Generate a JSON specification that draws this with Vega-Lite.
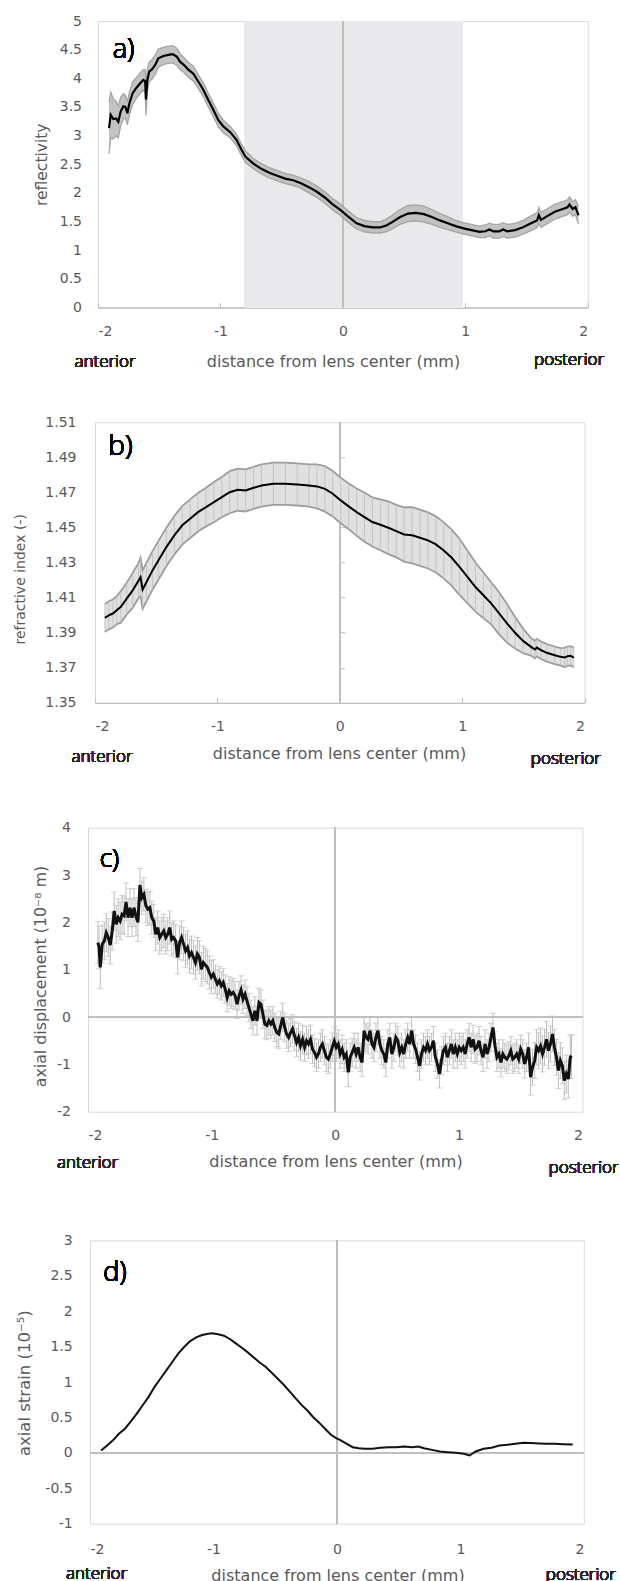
{
"$schema": "https://vega.github.io/schema/vega-lite/v6.json",
"background": "white",
"padding": {"left": 0, "top": 13, "right": 0, "bottom": 0},
"config": {
  "locale": {"number": {"decimal": ".", "thousands": ",", "grouping": [3], "currency": ["$", ""], "minus": "-"}},
  "view": {"stroke": "#d9d9d9", "strokeWidth": 1},
  "axis": {"labelFont": "DejaVu Sans", "labelFontSize": 14, "labelColor": "#595959", "labelOverlap": false, "titleFont": "DejaVu Sans", "titleColor": "#595959", "titleFontWeight": "normal", "domainColor": "#bfbfbf", "tickColor": "#bfbfbf", "grid": false, "format": "~g"},
  "text": {"font": "Open Sans", "fontWeight": 300}
},
"datasets": {
"a": [
{"x":-1.91,"y":3.13,"e":0.45},{"x":-1.896,"y":3.36,"e":0.4},{"x":-1.875,"y":3.29,"e":0.35},{"x":-1.853,"y":3.30,"e":0.3},{"x":-1.834,"y":3.24,"e":0.28},{"x":-1.815,"y":3.42,"e":0.25},{"x":-1.793,"y":3.51,"e":0.22},{"x":-1.776,"y":3.50,"e":0.2},{"x":-1.76,"y":3.39,"e":0.2},{"x":-1.744,"y":3.56,"e":0.2},{"x":-1.717,"y":3.74,"e":0.2},{"x":-1.684,"y":3.84,"e":0.18},{"x":-1.657,"y":3.91,"e":0.18},{"x":-1.63,"y":3.97,"e":0.18},{"x":-1.615,"y":3.95,"e":0.2},{"x":-1.608,"y":3.63,"e":0.28},{"x":-1.597,"y":3.97,"e":0.2},{"x":-1.581,"y":4.12,"e":0.17},{"x":-1.561,"y":4.15,"e":0.17},{"x":-1.534,"y":4.23,"e":0.17},{"x":-1.507,"y":4.35,"e":0.16},{"x":-1.466,"y":4.39,"e":0.15},{"x":-1.426,"y":4.41,"e":0.15},{"x":-1.39,"y":4.42,"e":0.15},{"x":-1.357,"y":4.38,"e":0.15},{"x":-1.33,"y":4.29,"e":0.14},{"x":-1.297,"y":4.23,"e":0.13},{"x":-1.262,"y":4.15,"e":0.13},{"x":-1.221,"y":4.08,"e":0.13},{"x":-1.18,"y":3.94,"e":0.12},{"x":-1.14,"y":3.80,"e":0.12},{"x":-1.099,"y":3.62,"e":0.12},{"x":-1.058,"y":3.45,"e":0.12},{"x":-1.017,"y":3.27,"e":0.12},{"x":-0.976,"y":3.16,"e":0.11},{"x":-0.92,"y":3.06,"e":0.1},{"x":-0.87,"y":2.93,"e":0.1},{"x":-0.83,"y":2.76,"e":0.1},{"x":-0.795,"y":2.63,"e":0.1},{"x":-0.73,"y":2.51,"e":0.09},{"x":-0.666,"y":2.42,"e":0.09},{"x":-0.601,"y":2.35,"e":0.09},{"x":-0.536,"y":2.30,"e":0.09},{"x":-0.471,"y":2.25,"e":0.09},{"x":-0.406,"y":2.22,"e":0.09},{"x":-0.342,"y":2.17,"e":0.09},{"x":-0.277,"y":2.10,"e":0.1},{"x":-0.212,"y":2.02,"e":0.1},{"x":-0.147,"y":1.92,"e":0.1},{"x":-0.083,"y":1.80,"e":0.1},{"x":-0.018,"y":1.70,"e":0.1},{"x":0.047,"y":1.58,"e":0.1},{"x":0.112,"y":1.47,"e":0.1},{"x":0.176,"y":1.42,"e":0.1},{"x":0.241,"y":1.40,"e":0.1},{"x":0.306,"y":1.40,"e":0.1},{"x":0.355,"y":1.43,"e":0.11},{"x":0.403,"y":1.49,"e":0.12},{"x":0.468,"y":1.58,"e":0.13},{"x":0.533,"y":1.64,"e":0.14},{"x":0.597,"y":1.65,"e":0.14},{"x":0.662,"y":1.63,"e":0.14},{"x":0.727,"y":1.58,"e":0.13},{"x":0.792,"y":1.52,"e":0.12},{"x":0.857,"y":1.47,"e":0.11},{"x":0.921,"y":1.42,"e":0.1},{"x":0.986,"y":1.38,"e":0.1},{"x":1.051,"y":1.35,"e":0.1},{"x":1.116,"y":1.32,"e":0.1},{"x":1.164,"y":1.33,"e":0.11},{"x":1.197,"y":1.36,"e":0.11},{"x":1.229,"y":1.33,"e":0.12},{"x":1.278,"y":1.33,"e":0.12},{"x":1.31,"y":1.36,"e":0.12},{"x":1.343,"y":1.33,"e":0.12},{"x":1.407,"y":1.35,"e":0.12},{"x":1.472,"y":1.40,"e":0.12},{"x":1.537,"y":1.47,"e":0.13},{"x":1.586,"y":1.52,"e":0.13},{"x":1.601,"y":1.61,"e":0.14},{"x":1.618,"y":1.53,"e":0.13},{"x":1.666,"y":1.59,"e":0.13},{"x":1.731,"y":1.67,"e":0.13},{"x":1.796,"y":1.72,"e":0.13},{"x":1.835,"y":1.75,"e":0.13},{"x":1.851,"y":1.80,"e":0.13},{"x":1.877,"y":1.72,"e":0.13},{"x":1.90,"y":1.75,"e":0.13},{"x":1.925,"y":1.61,"e":0.15}
],
"b": [
{"x":-1.919,"y":1.3984,"e":0.008},{"x":-1.887,"y":1.3999,"e":0.008},{"x":-1.854,"y":1.4009,"e":0.008},{"x":-1.822,"y":1.4028,"e":0.008},{"x":-1.789,"y":1.4047,"e":0.009},{"x":-1.741,"y":1.4094,"e":0.009},{"x":-1.692,"y":1.4141,"e":0.01},{"x":-1.644,"y":1.4198,"e":0.01},{"x":-1.628,"y":1.4217,"e":0.011},{"x":-1.611,"y":1.4145,"e":0.011},{"x":-1.579,"y":1.4189,"e":0.011},{"x":-1.53,"y":1.4255,"e":0.011},{"x":-1.482,"y":1.4312,"e":0.011},{"x":-1.417,"y":1.4388,"e":0.011},{"x":-1.352,"y":1.4455,"e":0.011},{"x":-1.287,"y":1.4512,"e":0.011},{"x":-1.223,"y":1.4550,"e":0.011},{"x":-1.158,"y":1.4587,"e":0.011},{"x":-1.093,"y":1.4616,"e":0.011},{"x":-1.028,"y":1.4644,"e":0.0115},{"x":-0.964,"y":1.4673,"e":0.0115},{"x":-0.899,"y":1.4701,"e":0.012},{"x":-0.834,"y":1.4715,"e":0.012},{"x":-0.769,"y":1.4711,"e":0.012},{"x":-0.704,"y":1.4726,"e":0.012},{"x":-0.640,"y":1.4739,"e":0.012},{"x":-0.543,"y":1.4749,"e":0.012},{"x":-0.445,"y":1.4749,"e":0.012},{"x":-0.348,"y":1.4745,"e":0.012},{"x":-0.251,"y":1.4739,"e":0.012},{"x":-0.186,"y":1.4734,"e":0.0125},{"x":-0.121,"y":1.4720,"e":0.013},{"x":-0.057,"y":1.4692,"e":0.013},{"x":0.008,"y":1.4654,"e":0.013},{"x":0.073,"y":1.4620,"e":0.013},{"x":0.138,"y":1.4587,"e":0.0135},{"x":0.202,"y":1.4559,"e":0.014},{"x":0.267,"y":1.4531,"e":0.014},{"x":0.332,"y":1.4515,"e":0.0145},{"x":0.397,"y":1.4498,"e":0.015},{"x":0.462,"y":1.4479,"e":0.015},{"x":0.526,"y":1.4460,"e":0.0155},{"x":0.591,"y":1.4455,"e":0.016},{"x":0.656,"y":1.4441,"e":0.016},{"x":0.721,"y":1.4426,"e":0.016},{"x":0.786,"y":1.4403,"e":0.016},{"x":0.850,"y":1.4369,"e":0.016},{"x":0.915,"y":1.4327,"e":0.016},{"x":0.980,"y":1.4274,"e":0.016},{"x":1.045,"y":1.4217,"e":0.015},{"x":1.109,"y":1.4160,"e":0.014},{"x":1.174,"y":1.4113,"e":0.013},{"x":1.239,"y":1.4066,"e":0.012},{"x":1.304,"y":1.4009,"e":0.012},{"x":1.368,"y":1.3952,"e":0.011},{"x":1.433,"y":1.3899,"e":0.009},{"x":1.498,"y":1.3853,"e":0.007},{"x":1.563,"y":1.3819,"e":0.005},{"x":1.595,"y":1.3804,"e":0.005},{"x":1.611,"y":1.3815,"e":0.005},{"x":1.644,"y":1.3800,"e":0.005},{"x":1.692,"y":1.3785,"e":0.005},{"x":1.757,"y":1.3771,"e":0.005},{"x":1.806,"y":1.3762,"e":0.005},{"x":1.838,"y":1.3758,"e":0.0055},{"x":1.861,"y":1.3766,"e":0.0055},{"x":1.887,"y":1.3768,"e":0.0055},{"x":1.913,"y":1.3758,"e":0.0055}
],
"c": [
{"x":-1.920,"y":1.57,"e":0.45},{"x":-1.910,"y":1.47,"e":0.45},{"x":-1.901,"y":1.05,"e":0.45},
{"x":-1.885,"y":1.54,"e":0.4},{"x":-1.868,"y":1.61,"e":0.4},{"x":-1.852,"y":1.78,"e":0.4},{"x":-1.836,"y":1.68,"e":0.4},{"x":-1.820,"y":1.52,"e":0.4},{"x":-1.804,"y":1.82,"e":0.4},{"x":-1.788,"y":2.24,"e":0.4},{"x":-1.772,"y":1.96,"e":0.4},{"x":-1.756,"y":2.10,"e":0.4},{"x":-1.740,"y":2.03,"e":0.4},{"x":-1.724,"y":2.17,"e":0.4},{"x":-1.708,"y":2.14,"e":0.4},{"x":-1.692,"y":2.43,"e":0.4},{"x":-1.676,"y":2.10,"e":0.4},{"x":-1.660,"y":2.31,"e":0.4},{"x":-1.644,"y":2.10,"e":0.4},{"x":-1.628,"y":2.31,"e":0.4},{"x":-1.612,"y":2.12,"e":0.4},{"x":-1.596,"y":2.00,"e":0.4},
{"x":-1.580,"y":2.79,"e":0.35},{"x":-1.564,"y":2.52,"e":0.35},{"x":-1.548,"y":2.59,"e":0.35},{"x":-1.532,"y":2.35,"e":0.35},{"x":-1.516,"y":2.28,"e":0.35},{"x":-1.500,"y":2.31,"e":0.35},{"x":-1.484,"y":2.10,"e":0.35},{"x":-1.468,"y":2.03,"e":0.35},{"x":-1.452,"y":1.75,"e":0.35},{"x":-1.436,"y":1.89,"e":0.35},{"x":-1.419,"y":1.68,"e":0.35},{"x":-1.403,"y":1.75,"e":0.35},{"x":-1.387,"y":1.82,"e":0.35},{"x":-1.371,"y":1.68,"e":0.35},{"x":-1.355,"y":1.75,"e":0.35},{"x":-1.339,"y":1.89,"e":0.35},{"x":-1.323,"y":1.64,"e":0.35},{"x":-1.307,"y":1.68,"e":0.35},{"x":-1.291,"y":1.61,"e":0.35},{"x":-1.275,"y":1.26,"e":0.35},{"x":-1.259,"y":1.57,"e":0.35},{"x":-1.243,"y":1.68,"e":0.35},{"x":-1.227,"y":1.54,"e":0.35},{"x":-1.211,"y":1.40,"e":0.35},{"x":-1.195,"y":1.47,"e":0.35},{"x":-1.179,"y":1.29,"e":0.35},{"x":-1.163,"y":1.36,"e":0.35},{"x":-1.147,"y":1.26,"e":0.35},{"x":-1.131,"y":1.15,"e":0.35},{"x":-1.115,"y":1.33,"e":0.35},{"x":-1.099,"y":1.26,"e":0.35},{"x":-1.083,"y":1.01,"e":0.35},{"x":-1.067,"y":1.15,"e":0.35},{"x":-1.051,"y":1.10,"e":0.35},{"x":-1.035,"y":1.05,"e":0.35},{"x":-1.019,"y":0.94,"e":0.35},{"x":-1.003,"y":0.84,"e":0.35},
{"x":-0.986,"y":0.91,"e":0.3},{"x":-0.970,"y":0.80,"e":0.3},{"x":-0.954,"y":0.70,"e":0.3},{"x":-0.938,"y":0.77,"e":0.3},{"x":-0.922,"y":0.66,"e":0.3},{"x":-0.906,"y":0.73,"e":0.3},{"x":-0.890,"y":0.59,"e":0.3},{"x":-0.874,"y":0.41,"e":0.3},{"x":-0.858,"y":0.55,"e":0.3},{"x":-0.842,"y":0.48,"e":0.3},{"x":-0.826,"y":0.52,"e":0.3},{"x":-0.810,"y":0.45,"e":0.3},{"x":-0.794,"y":0.27,"e":0.3},{"x":-0.778,"y":0.45,"e":0.3},{"x":-0.762,"y":0.57,"e":0.3},{"x":-0.746,"y":0.38,"e":0.3},{"x":-0.730,"y":0.48,"e":0.3},{"x":-0.714,"y":0.34,"e":0.3},{"x":-0.698,"y":0.20,"e":0.3},{"x":-0.682,"y":0.06,"e":0.3},{"x":-0.666,"y":-0.08,"e":0.3},{"x":-0.650,"y":0.13,"e":0.3},{"x":-0.633,"y":-0.08,"e":0.3},{"x":-0.617,"y":0.31,"e":0.3},{"x":-0.601,"y":0.27,"e":0.3},{"x":-0.585,"y":0.06,"e":0.3},{"x":-0.569,"y":-0.15,"e":0.3},{"x":-0.553,"y":-0.18,"e":0.3},{"x":-0.537,"y":-0.08,"e":0.3},{"x":-0.521,"y":-0.15,"e":0.3},{"x":-0.505,"y":-0.08,"e":0.3},{"x":-0.489,"y":-0.22,"e":0.3},{"x":-0.473,"y":-0.33,"e":0.3},{"x":-0.457,"y":-0.36,"e":0.3},{"x":-0.441,"y":-0.18,"e":0.3},{"x":-0.425,"y":-0.01,"e":0.3},{"x":-0.409,"y":-0.22,"e":0.3},{"x":-0.393,"y":-0.36,"e":0.3},{"x":-0.377,"y":-0.43,"e":0.3},{"x":-0.361,"y":-0.33,"e":0.3},{"x":-0.345,"y":-0.25,"e":0.3},{"x":-0.329,"y":-0.40,"e":0.3},{"x":-0.313,"y":-0.54,"e":0.3},{"x":-0.297,"y":-0.43,"e":0.3},{"x":-0.281,"y":-0.61,"e":0.3},{"x":-0.264,"y":-0.47,"e":0.3},{"x":-0.248,"y":-0.64,"e":0.3},{"x":-0.232,"y":-0.50,"e":0.3},{"x":-0.216,"y":-0.57,"e":0.3},{"x":-0.200,"y":-0.47,"e":0.3},{"x":-0.184,"y":-0.68,"e":0.3},{"x":-0.168,"y":-0.75,"e":0.3},{"x":-0.152,"y":-0.85,"e":0.3},{"x":-0.136,"y":-0.78,"e":0.3},{"x":-0.120,"y":-0.64,"e":0.3},{"x":-0.104,"y":-0.57,"e":0.3},{"x":-0.088,"y":-0.71,"e":0.3},{"x":-0.072,"y":-0.85,"e":0.3},{"x":-0.056,"y":-0.89,"e":0.3},{"x":-0.040,"y":-0.78,"e":0.3},{"x":-0.024,"y":-0.64,"e":0.3},{"x":-0.008,"y":-0.51,"e":0.3},
{"x":0.008,"y":-0.64,"e":0.3},{"x":0.024,"y":-0.57,"e":0.3},{"x":0.040,"y":-0.78,"e":0.3},{"x":0.056,"y":-0.68,"e":0.3},{"x":0.072,"y":-0.85,"e":0.3},{"x":0.089,"y":-0.78,"e":0.3},{"x":0.105,"y":-1.17,"e":0.3},{"x":0.121,"y":-0.85,"e":0.3},{"x":0.137,"y":-0.75,"e":0.3},{"x":0.153,"y":-0.64,"e":0.3},{"x":0.169,"y":-0.78,"e":0.3},{"x":0.185,"y":-0.64,"e":0.3},{"x":0.201,"y":-0.85,"e":0.3},{"x":0.217,"y":-0.96,"e":0.3},{"x":0.233,"y":-0.29,"e":0.3},{"x":0.249,"y":-0.43,"e":0.3},{"x":0.265,"y":-0.47,"e":0.3},{"x":0.281,"y":-0.29,"e":0.3},{"x":0.297,"y":-0.57,"e":0.3},{"x":0.313,"y":-0.64,"e":0.3},{"x":0.329,"y":-0.43,"e":0.3},{"x":0.345,"y":-0.29,"e":0.3},{"x":0.361,"y":-0.57,"e":0.3},{"x":0.377,"y":-0.71,"e":0.3},{"x":0.393,"y":-0.78,"e":0.3},{"x":0.409,"y":-0.96,"e":0.3},{"x":0.425,"y":-0.57,"e":0.3},{"x":0.441,"y":-0.43,"e":0.3},{"x":0.458,"y":-0.78,"e":0.3},{"x":0.474,"y":-0.64,"e":0.3},{"x":0.490,"y":-0.43,"e":0.3},{"x":0.506,"y":-0.50,"e":0.3},{"x":0.522,"y":-0.75,"e":0.3},{"x":0.538,"y":-0.64,"e":0.3},{"x":0.554,"y":-0.78,"e":0.3},{"x":0.570,"y":-0.57,"e":0.3},{"x":0.586,"y":-0.43,"e":0.3},{"x":0.602,"y":-0.57,"e":0.3},{"x":0.618,"y":-0.29,"e":0.3},{"x":0.634,"y":-0.57,"e":0.3},{"x":0.650,"y":-0.68,"e":0.3},{"x":0.666,"y":-0.85,"e":0.3},{"x":0.682,"y":-1.03,"e":0.3},{"x":0.698,"y":-0.78,"e":0.3},{"x":0.714,"y":-0.64,"e":0.3},{"x":0.730,"y":-0.71,"e":0.3},{"x":0.746,"y":-0.57,"e":0.3},{"x":0.762,"y":-0.71,"e":0.3},{"x":0.778,"y":-0.64,"e":0.3},{"x":0.794,"y":-0.50,"e":0.3},{"x":0.810,"y":-0.85,"e":0.3},{"x":0.826,"y":-0.99,"e":0.3},{"x":0.843,"y":-1.20,"e":0.3},{"x":0.859,"y":-0.92,"e":0.3},{"x":0.875,"y":-0.71,"e":0.3},{"x":0.891,"y":-0.64,"e":0.3},{"x":0.907,"y":-0.85,"e":0.3},{"x":0.923,"y":-0.71,"e":0.3},{"x":0.939,"y":-0.57,"e":0.3},{"x":0.955,"y":-0.78,"e":0.3},{"x":0.971,"y":-0.64,"e":0.3},{"x":0.987,"y":-0.78,"e":0.3},{"x":1.003,"y":-0.64,"e":0.3},{"x":1.019,"y":-0.71,"e":0.3},{"x":1.035,"y":-0.64,"e":0.3},{"x":1.051,"y":-0.78,"e":0.3},{"x":1.067,"y":-0.57,"e":0.3},{"x":1.083,"y":-0.43,"e":0.3},{"x":1.099,"y":-0.64,"e":0.3},{"x":1.115,"y":-0.47,"e":0.3},{"x":1.131,"y":-0.68,"e":0.3},{"x":1.147,"y":-0.64,"e":0.3},{"x":1.163,"y":-0.50,"e":0.3},{"x":1.179,"y":-0.71,"e":0.3},{"x":1.195,"y":-0.85,"e":0.3},{"x":1.212,"y":-0.57,"e":0.3},{"x":1.228,"y":-0.78,"e":0.3},{"x":1.244,"y":-0.64,"e":0.3},{"x":1.260,"y":-0.43,"e":0.3},{"x":1.276,"y":-0.22,"e":0.3},{"x":1.292,"y":-0.61,"e":0.3},{"x":1.308,"y":-0.85,"e":0.3},{"x":1.324,"y":-0.78,"e":0.3},{"x":1.340,"y":-0.96,"e":0.3},{"x":1.356,"y":-0.78,"e":0.3},{"x":1.372,"y":-0.85,"e":0.3},{"x":1.388,"y":-0.89,"e":0.3},{"x":1.404,"y":-0.82,"e":0.3},{"x":1.420,"y":-0.71,"e":0.3},{"x":1.436,"y":-0.89,"e":0.3},{"x":1.452,"y":-0.85,"e":0.3},{"x":1.468,"y":-0.78,"e":0.3},{"x":1.484,"y":-0.89,"e":0.3},{"x":1.500,"y":-0.68,"e":0.3},{"x":1.516,"y":-0.78,"e":0.3},{"x":1.532,"y":-0.99,"e":0.3},{"x":1.548,"y":-0.85,"e":0.3},{"x":1.564,"y":-0.64,"e":0.3},
{"x":1.580,"y":-1.27,"e":0.38},{"x":1.596,"y":-1.06,"e":0.38},{"x":1.613,"y":-0.92,"e":0.38},{"x":1.629,"y":-0.64,"e":0.38},{"x":1.645,"y":-0.71,"e":0.38},{"x":1.661,"y":-0.61,"e":0.38},{"x":1.677,"y":-0.78,"e":0.38},{"x":1.693,"y":-0.64,"e":0.38},{"x":1.709,"y":-0.47,"e":0.38},{"x":1.725,"y":-0.71,"e":0.38},{"x":1.741,"y":-0.57,"e":0.38},{"x":1.757,"y":-0.36,"e":0.38},{"x":1.773,"y":-0.64,"e":0.38},{"x":1.789,"y":-0.85,"e":0.38},{"x":1.805,"y":-1.13,"e":0.38},{"x":1.821,"y":-0.92,"e":0.38},{"x":1.837,"y":-1.03,"e":0.38},{"x":1.853,"y":-1.34,"e":0.4},{"x":1.869,"y":-1.20,"e":0.4},{"x":1.885,"y":-1.31,"e":0.4},{"x":1.901,"y":-0.85,"e":0.45},{"x":1.911,"y":-0.82,"e":0.45}
],
"d": [
{"x":-1.91,"y":0.034},{"x":-1.862,"y":0.105},{"x":-1.814,"y":0.176},{"x":-1.766,"y":0.27},{"x":-1.717,"y":0.341},{"x":-1.669,"y":0.445},{"x":-1.621,"y":0.554},{"x":-1.573,"y":0.672},{"x":-1.525,"y":0.79},{"x":-1.477,"y":0.932},{"x":-1.429,"y":1.05},{"x":-1.38,"y":1.168},{"x":-1.332,"y":1.286},{"x":-1.284,"y":1.404},{"x":-1.236,"y":1.498},{"x":-1.188,"y":1.578},{"x":-1.14,"y":1.63},{"x":-1.091,"y":1.664},{"x":-1.043,"y":1.682},{"x":-1.011,"y":1.687},{"x":-0.963,"y":1.673},{"x":-0.915,"y":1.654},{"x":-0.867,"y":1.607},{"x":-0.819,"y":1.545},{"x":-0.770,"y":1.484},{"x":-0.722,"y":1.418},{"x":-0.674,"y":1.347},{"x":-0.626,"y":1.276},{"x":-0.578,"y":1.215},{"x":-0.530,"y":1.135},{"x":-0.481,"y":1.05},{"x":-0.433,"y":0.965},{"x":-0.385,"y":0.870},{"x":-0.337,"y":0.776},{"x":-0.289,"y":0.681},{"x":-0.241,"y":0.601},{"x":-0.193,"y":0.506},{"x":-0.144,"y":0.426},{"x":-0.096,"y":0.341},{"x":-0.048,"y":0.255},{"x":-0.006,"y":0.209},{"x":0.032,"y":0.176},{"x":0.080,"y":0.128},{"x":0.128,"y":0.080},{"x":0.177,"y":0.066},{"x":0.225,"y":0.057},{"x":0.289,"y":0.057},{"x":0.353,"y":0.071},{"x":0.417,"y":0.080},{"x":0.482,"y":0.080},{"x":0.546,"y":0.090},{"x":0.610,"y":0.080},{"x":0.658,"y":0.090},{"x":0.706,"y":0.066},{"x":0.770,"y":0.042},{"x":0.835,"y":0.019},{"x":0.899,"y":0.009},{"x":0.963,"y":0.0},{"x":1.027,"y":-0.014},{"x":1.075,"y":-0.037},{"x":1.124,"y":0.019},{"x":1.188,"y":0.057},{"x":1.252,"y":0.071},{"x":1.316,"y":0.104},{"x":1.380,"y":0.114},{"x":1.445,"y":0.128},{"x":1.509,"y":0.142},{"x":1.573,"y":0.138},{"x":1.637,"y":0.133},{"x":1.701,"y":0.128},{"x":1.766,"y":0.128},{"x":1.83,"y":0.123},{"x":1.91,"y":0.118}
]
},
"spacing": 52.7,
"vconcat": [
{"spacing": 44.2, "vconcat": [
 {"bounds": "flush", "spacing": 0, "hconcat": [
  {"width": 98, "height": 10, "data": {"values": []}, "mark": "point", "view": {"stroke": null}},
  {"width": 489.7, "height": 286.5, "data": {"name": "a"},
   "resolve": {"axis": {"y": "independent"}},
   "layer": [
    {"mark": {"type": "rect", "color": "#e9e9ec"}, "encoding": {"x": {"datum": -0.8, "type": "quantitative"}, "x2": {"datum": 0.98}}},
    {"mark": {"type": "rule", "color": "#bfbfbf", "strokeWidth": 1.2}, "encoding": {"x": {"datum": 0, "type": "quantitative"}}},
    {"mark": {"type": "errorband", "color": "#bdbdbd", "opacity": 0.9, "borders": {"color": "#9e9e9e", "strokeWidth": 1.3}},
     "encoding": {"x": {"field": "x", "type": "quantitative", "scale": {"domain": [-2, 2], "nice": false, "zero": false}}, "y": {"field": "y", "type": "quantitative", "axis": null, "scale": {"domain": [0, 5], "nice": false, "zero": false}}, "yError": {"field": "e"}}},
    {"mark": {"type": "line", "color": "#000000", "strokeWidth": 2.2}, "encoding": {
      "x": {"field": "x", "type": "quantitative", "scale": {"domain": [-2, 2], "nice": false, "zero": false},
            "axis": {"values": [-2, -1, 0, 1, 2], "domain": true, "domainWidth": 1.3, "ticks": true, "tickSize": -5, "labelPadding": 22, "title": "distance from lens center (mm)", "titleFontSize": 16, "titleX": 235, "titleY": 53.5, "titleAlign": "center", "titleBaseline": "middle"}},
      "y": {"field": "y", "type": "quantitative", "scale": {"domain": [0, 5], "nice": false, "zero": false},
            "axis": {"orient": "left", "values": [0, 0.5, 1, 1.5, 2, 2.5, 3, 3.5, 4, 4.5, 5], "domain": false, "ticks": false, "tickSize": 0, "labelPadding": 16.5, "title": "reflectivity", "titleFontSize": 15.5, "titleX": -56.4, "titleY": 143.25, "titleAngle": -90, "titleAlign": "center", "titleBaseline": "middle"}}}},
    {"mark": {"type": "rule", "opacity": 0}, "encoding": {"y": {"field": "y", "type": "quantitative", "axis": {"orient": "right", "offset": -244.85, "values": [0.5, 1, 1.5, 2, 2.5, 3, 3.5, 4, 4.5], "labels": false, "domain": false, "ticks": true, "tickSize": 5, "title": null}}}},
    {"mark": {"type": "text", "fontSize": 27, "align": "left", "baseline": "middle", "color": "#000000"}, "encoding": {"x": {"datum": -1.88, "type": "quantitative"}, "y": {"datum": 4.49, "type": "quantitative", "axis": null}, "text": {"value": "a)"}}},
    {"mark": {"type": "text", "fontSize": 17, "align": "center", "baseline": "middle", "color": "#262626", "dy": 54}, "encoding": {"x": {"datum": -1.943, "type": "quantitative"}, "y": {"datum": 0, "type": "quantitative", "axis": null}, "text": {"value": "anterior"}}},
    {"mark": {"type": "text", "fontSize": 17, "align": "center", "baseline": "middle", "color": "#262626", "dy": 52.5}, "encoding": {"x": {"datum": 1.848, "type": "quantitative"}, "y": {"datum": 0, "type": "quantitative", "axis": null}, "text": {"value": "posterior"}}}
   ]}
 ]},
 {"bounds": "flush", "spacing": 0, "hconcat": [
  {"width": 95, "height": 10, "data": {"values": []}, "mark": "point", "view": {"stroke": null}},
  {"width": 489.5, "height": 280.6, "data": {"name": "b"},
   "resolve": {"axis": {"y": "independent"}},
   "layer": [
    {"mark": {"type": "rule", "color": "#bfbfbf", "strokeWidth": 1.2}, "encoding": {"x": {"datum": 0, "type": "quantitative"}}},
    {"mark": {"type": "errorband", "color": "#e0e0e0", "opacity": 1, "borders": {"color": "#9c9c9c", "strokeWidth": 1.8}},
     "encoding": {"x": {"field": "x", "type": "quantitative", "scale": {"domain": [-2, 2], "nice": false, "zero": false}}, "y": {"field": "y", "type": "quantitative", "axis": null, "scale": {"domain": [1.35, 1.51], "nice": false, "zero": false}}, "yError": {"field": "e"}}},
    {"mark": {"type": "errorbar", "color": "#bdbdbd", "thickness": 0.8, "ticks": false},
     "encoding": {"x": {"field": "x", "type": "quantitative"}, "y": {"field": "y", "type": "quantitative", "axis": null}, "yError": {"field": "e"}}},
    {"mark": {"type": "line", "color": "#000000", "strokeWidth": 2}, "encoding": {
      "x": {"field": "x", "type": "quantitative", "scale": {"domain": [-2, 2], "nice": false, "zero": false},
            "axis": {"values": [-2, -1, 0, 1, 2], "domain": true, "domainWidth": 1.3, "ticks": true, "tickSize": -5, "labelPadding": 22, "title": "distance from lens center (mm)", "titleFontSize": 16, "titleX": 244, "titleY": 50.7, "titleAlign": "center", "titleBaseline": "middle"}},
      "y": {"field": "y", "type": "quantitative", "scale": {"domain": [1.35, 1.51], "nice": false, "zero": false},
            "axis": {"orient": "left", "values": [1.35, 1.37, 1.39, 1.41, 1.43, 1.45, 1.47, 1.49, 1.51], "domain": false, "ticks": false, "tickSize": 0, "labelPadding": 19, "title": "refractive index  (-)", "titleFontSize": 14, "titleX": -74.2, "titleY": 156.6, "titleAngle": -90, "titleAlign": "center", "titleBaseline": "middle"}}}},
    {"mark": {"type": "rule", "opacity": 0}, "encoding": {"y": {"field": "y", "type": "quantitative", "axis": {"orient": "right", "offset": -244.75, "values": [1.37, 1.39, 1.41, 1.43, 1.45, 1.47, 1.49], "labels": false, "domain": false, "ticks": true, "tickSize": 5, "title": null}}}},
    {"mark": {"type": "text", "fontSize": 28, "align": "left", "baseline": "middle", "color": "#000000"}, "encoding": {"x": {"datum": -1.891, "type": "quantitative"}, "y": {"datum": 1.4961, "type": "quantitative", "axis": null}, "text": {"value": "b)"}}},
    {"mark": {"type": "text", "fontSize": 17, "align": "center", "baseline": "middle", "color": "#262626", "dy": 53.7}, "encoding": {"x": {"datum": -1.943, "type": "quantitative"}, "y": {"datum": 1.35, "type": "quantitative", "axis": null}, "text": {"value": "anterior"}}},
    {"mark": {"type": "text", "fontSize": 17, "align": "center", "baseline": "middle", "color": "#262626", "dy": 55.7}, "encoding": {"x": {"datum": 1.848, "type": "quantitative"}, "y": {"datum": 1.35, "type": "quantitative", "axis": null}, "text": {"value": "posterior"}}}
   ]}
 ]}
]},
{"spacing": 55.6, "vconcat": [
 {"bounds": "flush", "spacing": 0, "hconcat": [
  {"width": 87.5, "height": 10, "data": {"values": []}, "mark": "point", "view": {"stroke": null}},
  {"width": 494.5, "height": 284, "data": {"name": "c"},
   "layer": [
    {"mark": {"type": "rule", "color": "#bfbfbf", "strokeWidth": 1.3}, "encoding": {"x": {"datum": 0, "type": "quantitative"}}},
    {"mark": {"type": "rule", "color": "#bfbfbf", "strokeWidth": 1.3}, "encoding": {"y": {"datum": 0, "type": "quantitative"}}},
    {"mark": {"type": "errorbar", "color": "#bfbfbf", "thickness": 1, "ticks": {"size": 6, "color": "#bfbfbf"}},
     "encoding": {"x": {"field": "x", "type": "quantitative", "scale": {"domain": [-2, 2], "nice": false, "zero": false}}, "y": {"field": "y", "type": "quantitative", "title": "axial displacement (10⁻⁸ m)", "scale": {"domain": [-2, 4], "nice": false, "zero": false}}, "yError": {"field": "e"}}},
    {"mark": {"type": "line", "color": "#111111", "strokeWidth": 3}, "encoding": {
      "x": {"field": "x", "type": "quantitative", "scale": {"domain": [-2, 2], "nice": false, "zero": false},
            "axis": {"values": [-2, -1, 0, 1, 2], "domain": false, "ticks": false, "tickSize": 0, "labelPadding": 17, "title": "distance from lens center (mm)", "titleFontSize": 16, "titleX": 247.5, "titleY": 49.3, "titleAlign": "center", "titleBaseline": "middle"}},
      "y": {"field": "y", "type": "quantitative", "title": "axial displacement (10⁻⁸ m)", "scale": {"domain": [-2, 4], "nice": false, "zero": false},
            "axis": {"values": [-2, -1, 0, 1, 2, 3, 4], "domain": false, "ticks": false, "tickSize": 0, "labelPadding": 17.5, "title": "axial displacement (10⁻⁸ m)", "titleFontSize": 15.8, "titleX": -47.9, "titleY": 148.3, "titleAngle": -90, "titleAlign": "center", "titleBaseline": "middle"}}}},
    {"mark": {"type": "text", "fontSize": 26, "align": "left", "baseline": "middle", "color": "#000000"}, "encoding": {"x": {"datum": -1.905, "type": "quantitative"}, "y": {"datum": 3.34, "type": "quantitative"}, "text": {"value": "c)"}}},
    {"mark": {"type": "text", "fontSize": 17, "align": "center", "baseline": "middle", "color": "#262626", "dy": 51}, "encoding": {"x": {"datum": -2.004, "type": "quantitative"}, "y": {"datum": -2, "type": "quantitative"}, "text": {"value": "anterior"}}},
    {"mark": {"type": "text", "fontSize": 17, "align": "center", "baseline": "middle", "color": "#262626", "dy": 56}, "encoding": {"x": {"datum": 2.009, "type": "quantitative"}, "y": {"datum": -2, "type": "quantitative"}, "text": {"value": "posterior"}}}
   ]}
 ]},
 {"bounds": "flush", "spacing": 0, "hconcat": [
  {"width": 89.5, "height": 10, "data": {"values": []}, "mark": "point", "view": {"stroke": null}},
  {"width": 493.8, "height": 283.4, "data": {"name": "d"},
   "resolve": {"axis": {"y": "independent"}},
   "layer": [
    {"mark": {"type": "rule", "color": "#bfbfbf", "strokeWidth": 1.3}, "encoding": {"x": {"datum": 0, "type": "quantitative"}}},
    {"mark": {"type": "rule", "color": "#bfbfbf", "strokeWidth": 1.3}, "encoding": {"y": {"datum": 0, "type": "quantitative", "axis": null}}},
    {"mark": {"type": "line", "color": "#111111", "strokeWidth": 2}, "encoding": {
      "x": {"field": "x", "type": "quantitative", "scale": {"domain": [-2, 2], "nice": false, "zero": false},
            "axis": {"values": [-2, -1, 0, 1, 2], "domain": false, "ticks": false, "tickSize": 0, "labelPadding": 19, "title": "distance from lens center (mm)", "titleFontSize": 16, "titleX": 247.5, "titleY": 51.3, "titleAlign": "center", "titleBaseline": "middle"}},
      "y": {"field": "y", "type": "quantitative", "scale": {"domain": [-1, 3], "nice": false, "zero": false},
            "axis": {"orient": "left", "values": [-1, -0.5, 0, 0.5, 1, 1.5, 2, 2.5, 3], "labelOverlap": false, "domain": false, "ticks": false, "tickSize": 0, "labelPadding": 17.8, "title": "axial strain (10⁻⁵)", "titleFontSize": 16.5, "titleX": -65.7, "titleY": 142.4, "titleAngle": -90, "titleAlign": "center", "titleBaseline": "middle"}}}},
    {"mark": {"type": "text", "fontSize": 27, "align": "left", "baseline": "middle", "color": "#000000"}, "encoding": {"x": {"datum": -1.893, "type": "quantitative"}, "y": {"datum": 2.54, "type": "quantitative", "axis": null}, "text": {"value": "d)"}}},
    {"mark": {"type": "text", "fontSize": 17, "align": "center", "baseline": "middle", "color": "#262626", "dy": 50}, "encoding": {"x": {"datum": -1.947, "type": "quantitative"}, "y": {"datum": -1, "type": "quantitative", "axis": null}, "text": {"value": "anterior"}}},
    {"mark": {"type": "text", "fontSize": 17, "align": "center", "baseline": "middle", "color": "#262626", "dy": 51.6}, "encoding": {"x": {"datum": 1.976, "type": "quantitative"}, "y": {"datum": -1, "type": "quantitative", "axis": null}, "text": {"value": "posterior"}}}
   ]}
 ]}
]}
]
}
